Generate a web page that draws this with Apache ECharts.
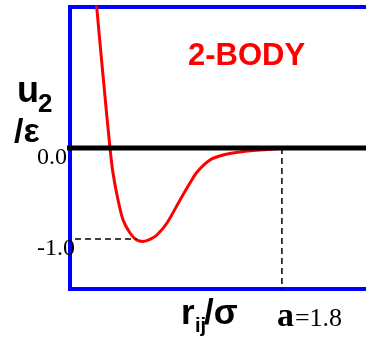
<!DOCTYPE html>
<html>
<head>
<meta charset="utf-8">
<script src="https://cdn.jsdelivr.net/npm/echarts@6/dist/echarts.min.js"></script>
<style>html,body{margin:0;padding:0;background:#fff;}#c{width:366px;height:342px;}</style>
</head>
<body>
<div id="c"></div>
<script>
// reduced distance r/sigma and two-body energy u2/epsilon
var rValues = [0.802, 0.809, 0.844, 0.880, 0.896, 0.923, 0.950, 0.987, 1.019, 1.057, 1.094, 1.131, 1.185, 1.255, 1.308, 1.346, 1.415, 1.485, 1.576, 1.683, 1.763, 1.843, 1.961];
var uValues = [1.736, 1.549, 0.769, 0.000, -0.275, -0.571, -0.791, -0.934, -1.005, -1.027, -1.005, -0.956, -0.824, -0.571, -0.385, -0.264, -0.132, -0.077, -0.044, -0.022, -0.011, 0.000, 0.000];
var yTickValues = [-1, 0];
var yTickLabels = ['-1.0', '0.0'];
var cutoffA = 1.8;
var minDepth = -1.0;
var minGuideX = [0.693, 1.024];
var xMin = 0.666, xMax = 2.250, yMin = -1.55, yMax = 1.55;

var curve = rValues.map(function (r, i) { return [r, uValues[i]]; });
var blue = {color: '#0000ff', width: 4, cap: 'square'};

var chart = echarts.init(document.getElementById('c'), null, {renderer: 'canvas'});
chart.setOption({
  animation: false,
  grid: {left: 70, top: 7, right: 0, bottom: 53, show: false},
  xAxis: [
    {type: 'value', min: xMin, max: xMax, position: 'bottom', axisLine: {show: true, onZero: false, lineStyle: blue}, axisTick: {show: false}, splitLine: {show: false}, axisLabel: {show: false}},
    {type: 'value', min: xMin, max: xMax, position: 'top', axisLine: {show: true, onZero: false, lineStyle: blue}, axisTick: {show: false}, splitLine: {show: false}, axisLabel: {show: false}}
  ],
  yAxis: {type: 'value', min: yMin, max: yMax, axisLine: {show: true, onZero: false, lineStyle: blue}, axisTick: {show: false}, splitLine: {show: false}, axisLabel: {show: false}},
  series: [
    {type: 'line', data: curve, smooth: 0.3, showSymbol: false, lineStyle: {color: '#ff0000', width: 3}, z: 2},
    {type: 'line', data: [[xMin - 0.021, 0], [xMax, 0]], clip: false, showSymbol: false, lineStyle: {color: '#000', width: 5}, z: 4},
    {type: 'line', data: [[minGuideX[0], minDepth], [minGuideX[1], minDepth]], showSymbol: false, lineStyle: {color: '#000', width: 1.5, type: [6, 4]}, z: 3},
    {type: 'line', data: [[cutoffA, 0], [cutoffA, yMin]], showSymbol: false, lineStyle: {color: '#000', width: 1.5, type: [6, 4]}, z: 3}
  ]
});

function txt(x, top, text, font, z) {
  return {type: 'text', x: x, y: top, z: z || 10, style: {text: text, font: font, fill: '#000'}};
}
var graphics = [
  txt(17, 74, 'u', 'bold 36px "Liberation Sans"'),
  txt(38, 92, '2', 'bold 26px "Liberation Sans"'),
  txt(14, 116, '/ε', 'bold 34px "Liberation Sans"'),
  {type: 'text', x: 188, y: 41, style: {text: '2-BODY', font: 'bold 31px "Liberation Sans"', fill: '#ff0000'}}
];
// y tick labels placed through the axis scale
yTickValues.forEach(function (v, i) {
  var py = chart.convertToPixel({yAxisIndex: 0}, v);
  graphics.push(txt(37, py - 2, yTickLabels[i], '24px "Liberation Serif"'));
});
// x label at the cutoff a
var pa = chart.convertToPixel({xAxisIndex: 0}, cutoffA);
graphics.push(txt(pa - 5, 300, 'a', 'bold 34px "Liberation Serif"'));
graphics.push(txt(pa + 13, 306, '=' + cutoffA.toFixed(1), '26px "Liberation Serif"'));
// axis title r_ij / sigma
graphics.push(txt(181, 297, 'r', 'bold 35px "Liberation Sans"'));
graphics.push(txt(195, 316, 'ij', 'bold 20px "Liberation Sans"'));
graphics.push(txt(204, 297, '/σ', 'bold 35px "Liberation Sans"'));
chart.setOption({graphic: graphics});
</script>
</body>
</html>
